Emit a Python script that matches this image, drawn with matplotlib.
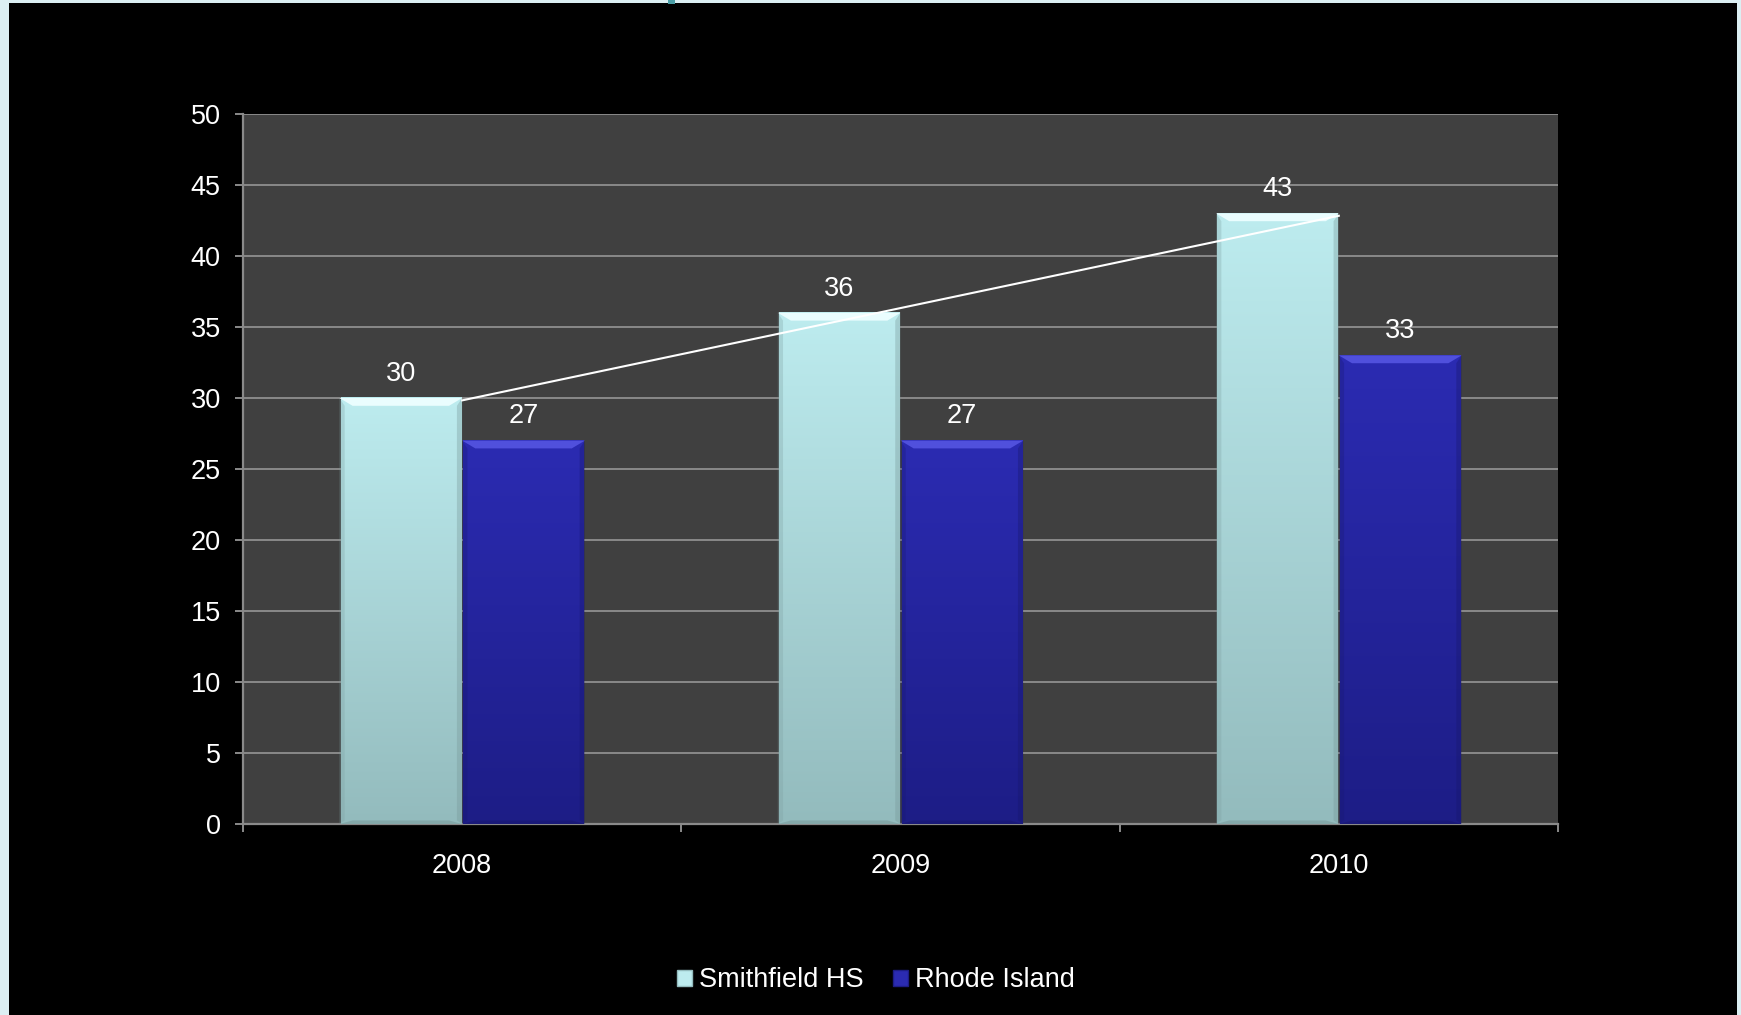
import numpy as np
import matplotlib
matplotlib.use('Agg')
import matplotlib.pyplot as plt
from matplotlib.patches import Rectangle, Polygon, Patch

plt.rcParams['font.family'] = ['Liberation Sans', 'DejaVu Sans']

# Data
years = ['2008', '2009', '2010']
smithfield = [30, 36, 43]
rhode_island = [27, 27, 33]
series_names = ['Smithfield HS', 'Rhode Island']
y_ticks = [0, 5, 10, 15, 20, 25, 30, 35, 40, 45, 50]

# Colours (top, bottom, bevel highlight)
cyan_top, cyan_bot, cyan_hi = '#BDECEF', '#93BBBD', '#EAFDFE'
blue_top, blue_bot, blue_hi = '#2B2BB2', '#1D1D86', '#5050DC'

fs = 19.5

fig = plt.figure(figsize=(17.41, 10.15), dpi=100, facecolor='#DCEFF3')

# black slide panel and small teal mark at the top
fig.patches.append(Rectangle((9 / 1741, 0), (1737 - 9) / 1741, 1 - 3 / 1015,
                             transform=fig.transFigure, facecolor='black', edgecolor='none', zorder=-10))
fig.patches.append(Rectangle((668 / 1741, 1 - 4 / 1015), 7 / 1741, 4 / 1015,
                             transform=fig.transFigure, facecolor='#4A9EA6', edgecolor='none', zorder=-10))

ax = fig.add_axes([243 / 1741, 1 - 824 / 1015, (1558 - 243) / 1741, (824 - 114) / 1015])
ax.set_zorder(1)
ax.set_facecolor('#404040')

x = np.arange(len(years))
width = 0.28
bars1 = ax.bar(x - width / 2, smithfield, width, color='none', zorder=3)
bars2 = ax.bar(x + width / 2, rhode_island, width, color='none', zorder=3)


def hex2rgb(h):
    return np.array(matplotlib.colors.to_rgb(h))


def shade_bars(bars, top, bot, hi):
    t, b = hex2rgb(top), hex2rgb(bot)
    for bar in bars:
        bx, bw, bh = bar.get_x(), bar.get_width(), bar.get_height()
        n = 200
        frac = np.linspace(0, 1, n)[:, None]
        grad = (t * (1 - frac) + b * frac)[:, None, :]
        grad = np.repeat(grad, 2, axis=1)
        ax.imshow(grad, extent=[bx + 0.003, bx + bw - 0.003, 0, bh], aspect='auto', zorder=3,
                  interpolation='bilinear')
        bev = 0.55
        dx = 0.03
        # top bevel
        ax.add_patch(Polygon([(bx, bh), (bx + bw, bh), (bx + bw - dx, bh - bev), (bx + dx, bh - bev)],
                             closed=True, facecolor=hi, edgecolor='none', zorder=4))
        # side shading
        sd = 0.012
        ax.add_patch(Polygon([(bx + bw, bh), (bx + bw, 0), (bx + bw - sd, 0.25), (bx + bw - sd, bh - bev)],
                             closed=True, facecolor=b * 0.8, edgecolor='none', alpha=0.35, zorder=4))
        ax.add_patch(Polygon([(bx, bh), (bx, 0), (bx + sd, 0.25), (bx + sd, bh - bev)],
                             closed=True, facecolor=b * 0.85, edgecolor='none', alpha=0.3, zorder=4))
        # bottom bevel
        ax.add_patch(Polygon([(bx, 0), (bx + bw, 0), (bx + bw - dx, 0.25), (bx + dx, 0.25)],
                             closed=True, facecolor=b * 0.8, edgecolor='none', alpha=0.5, zorder=4))
        ax.annotate(f'{bh:g}', (bx + bw / 2, bh), xytext=(0, 8), textcoords='offset points',
                    ha='center', va='bottom', color='white', fontsize=fs, zorder=6)


shade_bars(bars1, cyan_top, cyan_bot, cyan_hi)
shade_bars(bars2, blue_top, blue_bot, blue_hi)

# linear trendline for Smithfield HS
k, c = np.polyfit(x, smithfield, 1)
ax.plot(x, k * x + c, color='white', linewidth=1.5, zorder=5)

ax.set_xlim(-0.5, len(years) - 0.5)
ax.set_ylim(0, 50)
ax.set_yticks(y_ticks)
ax.yaxis.grid(True, color='#8A8A8A', linewidth=1.4, zorder=1)
ax.set_axisbelow(True)

ax.set_xticks(np.arange(-0.5, len(years)), labels=[''] * (len(years) + 1))
ax.set_xticks(x, labels=years, minor=True)
ax.tick_params(axis='x', which='major', length=6, width=1.4, color='#8A8A8A')
ax.tick_params(axis='x', which='minor', length=0, pad=21, labelsize=fs, labelcolor='white')
ax.tick_params(axis='y', length=6, width=1.4, color='#8A8A8A', pad=10, labelsize=fs, labelcolor='white')

for s in ['top', 'right']:
    ax.spines[s].set_visible(False)
for s in ['left', 'bottom']:
    ax.spines[s].set_color('#8A8A8A')
    ax.spines[s].set_linewidth(1.6)

handles = [Patch(facecolor=cyan_top, edgecolor=cyan_bot), Patch(facecolor=blue_top, edgecolor=blue_bot)]
leg = fig.legend(handles, series_names, loc='center', bbox_to_anchor=(0.503, 0.034), ncol=2, frameon=False,
                 fontsize=fs, handlelength=0.55, handleheight=0.55, handletextpad=0.25, columnspacing=1.1)
for t in leg.get_texts():
    t.set_color('white')

fig.savefig('out.png', dpi=100, facecolor=fig.get_facecolor())
